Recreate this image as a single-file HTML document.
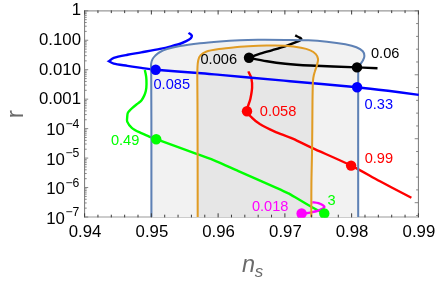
<!DOCTYPE html>
<html><head><meta charset="utf-8"><title>r vs ns</title>
<style>
html,body{margin:0;padding:0;background:#fff;}
body{width:436px;height:282px;overflow:hidden;font-family:"Liberation Sans",sans-serif;}
svg{display:block;will-change:transform;}
text{font-family:"Liberation Sans",sans-serif;}
</style></head><body>
<svg width="436" height="282" viewBox="0 0 436 282">
<rect width="436" height="282" fill="#fff"/>
<defs><clipPath id="clip"><rect x="84.1" y="10.3" width="334.8" height="207.4"/></clipPath></defs>
<path d="M84.6,10.8 V217.0 M418.4,10.8 V217.0" stroke="#777" stroke-width="1" fill="none"/>
<path d="M84.1,10.8 H418.9 M84.1,217.0 H418.9" stroke="#999" stroke-width="1.2" fill="none"/>
<g clip-path="url(#clip)">
<path d="M151.4,217.0 C151.4,204.2 151.4,164.2 151.4,140.0 C151.4,115.8 151.3,84.7 151.2,72.0 C151.2,69.1 150.9,66.1 151.1,64.0 C151.3,62.3 151.7,60.8 152.4,59.4 C153.1,58.0 154.1,56.8 155.3,55.6 C156.6,54.4 158.1,53.0 160.0,52.0 C161.9,50.9 164.4,49.8 167.0,49.0 C170.3,48.0 175.3,46.9 180.0,46.1 C185.5,45.1 193.3,44.1 200.0,43.3 C206.7,42.5 213.3,42.0 220.0,41.5 C226.7,41.0 233.7,40.6 240.0,40.3 C246.3,40.0 251.3,39.9 257.6,39.8 C265.2,39.7 276.8,39.8 285.3,39.9 C293.6,40.0 301.5,40.0 308.4,40.3 C315.1,40.6 320.8,41.1 326.9,41.8 C333.0,42.4 340.4,43.4 345.3,44.3 C349.4,45.1 353.5,46.1 356.4,47.3 C358.9,48.3 361.5,49.9 362.8,51.3 C364.0,52.6 364.4,54.3 364.4,55.9 C364.4,57.5 363.5,59.1 362.8,60.6 C362.1,62.1 360.7,63.4 360.0,65.0 C359.3,66.6 358.8,68.2 358.5,70.0 C358.2,71.8 358.2,73.8 358.2,76.0 C358.1,100.5 358.2,193.5 358.2,217.0 Z" fill="#f2f2f2" stroke="none"/>
<path d="M197.7,217.0 C197.7,199.2 197.6,132.8 197.5,110.0 C197.5,99.2 197.3,87.2 197.3,80.0 C197.3,75.3 197.3,70.2 197.5,67.0 C197.6,64.6 197.8,62.4 198.2,60.5 C198.6,58.6 198.9,57.0 200.2,55.6 C201.5,54.1 203.6,52.5 206.0,51.7 C209.1,50.6 214.3,49.8 219.0,49.1 C224.7,48.3 235.1,47.3 240.0,46.8 C243.0,46.5 245.4,46.3 248.4,46.2 C252.9,46.0 260.8,45.7 266.9,45.6 C273.0,45.5 279.6,45.4 285.3,45.8 C291.0,46.2 296.8,47.0 301.0,47.8 C304.4,48.4 307.8,49.3 310.3,50.4 C312.5,51.3 314.5,52.7 315.8,54.1 C317.0,55.4 317.7,57.3 318.0,58.7 C318.3,60.0 317.8,61.2 317.6,62.5 C317.4,63.8 317.0,65.1 316.6,66.5 C316.1,68.1 315.2,70.1 314.7,72.0 C314.1,73.9 313.6,76.0 313.3,78.0 C313.0,80.0 312.9,81.8 312.8,84.0 C312.7,87.7 312.6,94.2 312.5,100.0 C312.4,110.7 312.3,133.8 312.1,148.0 C311.9,161.3 311.5,173.5 311.4,185.0 C311.3,196.5 311.3,211.7 311.3,217.0 Z" fill="#e6e6e6" stroke="none"/>
<path d="M144.8,70.0 C145.0,70.8 146.0,75.3 146.2,76.8 C146.4,78.3 146.5,82.3 146.5,83.9 C146.5,85.5 146.1,89.7 145.8,91.0 C145.5,92.3 144.6,94.9 144.1,95.9 C143.6,96.9 142.3,99.4 141.6,100.3 C140.9,101.2 138.7,102.8 137.7,103.6 C136.7,104.4 133.8,106.6 132.7,107.6 C131.6,108.6 128.5,111.6 127.9,112.7 C127.3,113.8 127.3,116.2 127.2,117.2 C127.1,118.2 126.7,120.4 127.2,121.6 C127.7,122.8 130.4,126.6 131.8,127.8 C133.2,129.0 137.9,131.5 139.8,132.4 C141.7,133.3 146.9,135.5 148.7,136.3 C150.5,137.1 155.4,138.9 156.2,139.2 C160.8,140.9 191.1,151.9 197.9,154.4 C204.7,156.9 212.5,159.7 217.0,161.6 C221.5,163.5 231.9,168.3 238.4,171.2 C244.9,174.1 269.7,184.8 275.3,187.3 C280.1,189.4 287.1,192.7 288.6,193.4 C291.2,194.9 307.6,204.8 311.6,207.0 C315.6,209.2 322.9,212.9 324.3,213.6" fill="none" stroke="#00ff00" stroke-width="2.4" stroke-linejoin="miter" stroke-miterlimit="3"/>
<path d="M248.3,71.4 C248.8,72.6 250.8,75.7 251.4,78.4 C252.0,81.1 252.3,84.3 252.1,87.6 C251.9,91.0 251.2,94.8 250.4,98.7 C249.6,102.6 246.7,108.0 247.0,111.2 C247.3,114.2 250.0,115.7 252.1,117.8 C254.2,119.9 256.8,122.1 259.8,124.0 C263.5,126.2 268.9,128.9 274.2,131.3 C279.7,133.8 286.4,135.9 292.7,138.7 C299.0,141.5 305.0,144.7 312.0,147.9 C321.7,152.4 339.8,160.0 351.1,165.6 C361.7,170.8 369.9,175.9 380.0,181.3 C390.1,186.7 406.2,195.1 411.4,197.8" fill="none" stroke="#ff0000" stroke-width="2.4" stroke-linejoin="miter" stroke-miterlimit="3"/>
<path d="M188.5,32.9 C188.9,33.2 190.5,34.1 191.1,34.7 C191.6,35.2 192.1,35.9 191.8,36.6 C191.5,37.4 190.4,38.8 189.2,39.6 C187.6,40.7 184.8,42.0 182.1,43.0 C179.1,44.1 174.7,45.3 171.0,46.3 C167.3,47.3 164.0,48.1 160.0,48.9 C155.1,49.9 146.7,51.4 141.3,52.4 C136.3,53.3 132.1,53.9 127.5,54.8 C122.9,55.7 116.9,56.8 113.8,57.9 C111.8,58.6 109.8,60.7 109.0,61.2 C109.8,61.6 111.9,63.2 113.8,63.7 C116.9,64.5 122.9,65.2 127.5,65.9 C132.1,66.6 136.6,67.2 141.3,67.9 C146.0,68.6 150.5,69.3 155.7,69.8 C165.1,70.6 187.3,72.2 198.0,73.0 C205.9,73.6 212.1,74.2 220.0,74.9 C228.0,75.6 236.6,76.5 246.0,77.3 C257.7,78.3 274.2,79.8 290.0,81.2 C308.5,82.9 340.8,85.6 357.1,87.2 C368.2,88.3 377.7,89.5 388.0,90.8 C398.3,92.1 413.7,94.2 418.8,94.9" fill="none" stroke="#0000ff" stroke-width="2.4" stroke-linejoin="miter" stroke-miterlimit="3"/>
<path d="M249.0,57.8 C250.6,57.2 255.2,55.4 258.8,54.2 C262.7,52.9 267.9,51.5 272.5,50.1 C277.1,48.7 282.4,47.1 286.3,45.8 C289.8,44.6 293.6,43.1 295.9,42.2 C297.5,41.6 299.4,40.8 300.3,40.2 C300.8,39.9 301.4,39.3 301.3,38.9 C301.2,38.5 300.3,38.0 299.6,37.6 C298.6,37.0 295.9,35.8 295.2,35.4" fill="none" stroke="#000" stroke-width="2.4" stroke-linejoin="miter" stroke-miterlimit="3"/>
<path d="M249.0,57.8 C252.0,58.4 260.8,60.3 266.9,61.3 C272.9,62.3 278.7,63.1 285.3,63.7 C292.5,64.4 301.1,65.0 310.0,65.5 C321.9,66.1 345.8,66.9 357.0,67.4 C364.4,67.7 374.1,68.2 377.5,68.3" fill="none" stroke="#000" stroke-width="2.4" stroke-linejoin="miter" stroke-miterlimit="3"/>
<path d="M312.3,202.2 C313.3,202.4 316.6,202.6 318.4,203.2 C320.2,203.8 322.3,204.8 323.3,205.5 C323.9,205.9 324.6,206.5 324.4,207.1 C324.2,207.7 322.9,208.6 321.9,209.1 C320.7,209.8 318.8,210.4 317.0,211.0 C315.2,211.6 313.1,212.0 311.3,212.4 C309.5,212.8 307.9,213.1 306.3,213.3 C304.7,213.5 302.4,213.5 301.6,213.5" fill="none" stroke="#ff00ff" stroke-width="2.4" stroke-linejoin="miter" stroke-miterlimit="3"/>
<path d="M151.4,217.0 C151.4,204.2 151.4,164.2 151.4,140.0 C151.4,115.8 151.3,84.7 151.2,72.0 C151.2,69.1 150.9,66.1 151.1,64.0 C151.3,62.3 151.7,60.8 152.4,59.4 C153.1,58.0 154.1,56.8 155.3,55.6 C156.6,54.4 158.1,53.0 160.0,52.0 C161.9,50.9 164.4,49.8 167.0,49.0 C170.3,48.0 175.3,46.9 180.0,46.1 C185.5,45.1 193.3,44.1 200.0,43.3 C206.7,42.5 213.3,42.0 220.0,41.5 C226.7,41.0 233.7,40.6 240.0,40.3 C246.3,40.0 251.3,39.9 257.6,39.8 C265.2,39.7 276.8,39.8 285.3,39.9 C293.6,40.0 301.5,40.0 308.4,40.3 C315.1,40.6 320.8,41.1 326.9,41.8 C333.0,42.4 340.4,43.4 345.3,44.3 C349.4,45.1 353.5,46.1 356.4,47.3 C358.9,48.3 361.5,49.9 362.8,51.3 C364.0,52.6 364.4,54.3 364.4,55.9 C364.4,57.5 363.5,59.1 362.8,60.6 C362.1,62.1 360.7,63.4 360.0,65.0 C359.3,66.6 358.8,68.2 358.5,70.0 C358.2,71.8 358.2,73.8 358.2,76.0 C358.1,100.5 358.2,193.5 358.2,217.0" fill="none" stroke="#5e81b5" stroke-width="2.05"/>
<path d="M197.7,217.0 C197.7,199.2 197.6,132.8 197.5,110.0 C197.5,99.2 197.3,87.2 197.3,80.0 C197.3,75.3 197.3,70.2 197.5,67.0 C197.6,64.6 197.8,62.4 198.2,60.5 C198.6,58.6 198.9,57.0 200.2,55.6 C201.5,54.1 203.6,52.5 206.0,51.7 C209.1,50.6 214.3,49.8 219.0,49.1 C224.7,48.3 235.1,47.3 240.0,46.8 C243.0,46.5 245.4,46.3 248.4,46.2 C252.9,46.0 260.8,45.7 266.9,45.6 C273.0,45.5 279.6,45.4 285.3,45.8 C291.0,46.2 296.8,47.0 301.0,47.8 C304.4,48.4 307.8,49.3 310.3,50.4 C312.5,51.3 314.5,52.7 315.8,54.1 C317.0,55.4 317.7,57.3 318.0,58.7 C318.3,60.0 317.8,61.2 317.6,62.5 C317.4,63.8 317.0,65.1 316.6,66.5 C316.1,68.1 315.2,70.1 314.7,72.0 C314.1,73.9 313.6,76.0 313.3,78.0 C313.0,80.0 312.9,81.8 312.8,84.0 C312.7,87.7 312.6,94.2 312.5,100.0 C312.4,110.7 312.3,133.8 312.1,148.0 C311.9,161.3 311.5,173.5 311.4,185.0 C311.3,196.5 311.3,211.7 311.3,217.0" fill="none" stroke="#e19c24" stroke-width="2.05"/>
</g>
<path d="M84.60,217.4 v-4.1000000000000005 M84.60,10.4 v4.1000000000000005 M97.95,217.4 v-2.6999999999999997 M97.95,10.4 v2.6999999999999997 M111.30,217.4 v-2.6999999999999997 M111.30,10.4 v2.6999999999999997 M124.66,217.4 v-2.6999999999999997 M124.66,10.4 v2.6999999999999997 M138.01,217.4 v-2.6999999999999997 M138.01,10.4 v2.6999999999999997 M151.36,217.4 v-4.1000000000000005 M151.36,10.4 v4.1000000000000005 M164.71,217.4 v-2.6999999999999997 M164.71,10.4 v2.6999999999999997 M178.06,217.4 v-2.6999999999999997 M178.06,10.4 v2.6999999999999997 M191.42,217.4 v-2.6999999999999997 M191.42,10.4 v2.6999999999999997 M204.77,217.4 v-2.6999999999999997 M204.77,10.4 v2.6999999999999997 M218.12,217.4 v-4.1000000000000005 M218.12,10.4 v4.1000000000000005 M231.47,217.4 v-2.6999999999999997 M231.47,10.4 v2.6999999999999997 M244.82,217.4 v-2.6999999999999997 M244.82,10.4 v2.6999999999999997 M258.18,217.4 v-2.6999999999999997 M258.18,10.4 v2.6999999999999997 M271.53,217.4 v-2.6999999999999997 M271.53,10.4 v2.6999999999999997 M284.88,217.4 v-4.1000000000000005 M284.88,10.4 v4.1000000000000005 M298.23,217.4 v-2.6999999999999997 M298.23,10.4 v2.6999999999999997 M311.58,217.4 v-2.6999999999999997 M311.58,10.4 v2.6999999999999997 M324.94,217.4 v-2.6999999999999997 M324.94,10.4 v2.6999999999999997 M338.29,217.4 v-2.6999999999999997 M338.29,10.4 v2.6999999999999997 M351.64,217.4 v-4.1000000000000005 M351.64,10.4 v4.1000000000000005 M364.99,217.4 v-2.6999999999999997 M364.99,10.4 v2.6999999999999997 M378.34,217.4 v-2.6999999999999997 M378.34,10.4 v2.6999999999999997 M391.70,217.4 v-2.6999999999999997 M391.70,10.4 v2.6999999999999997 M405.05,217.4 v-2.6999999999999997 M405.05,10.4 v2.6999999999999997 M418.40,217.4 v-4.1000000000000005 M418.40,10.4 v4.1000000000000005" stroke="#3a3a3a" stroke-width="1" fill="none"/>
<path d="M84.6,10.80 h3.6 M84.6,31.39 h2.1 M84.6,26.20 h2.1 M84.6,22.52 h2.1 M84.6,19.67 h2.1 M84.6,17.34 h2.1 M84.6,15.36 h2.1 M84.6,13.65 h2.1 M84.6,12.15 h2.1 M84.6,40.26 h3.6 M84.6,60.85 h2.1 M84.6,55.66 h2.1 M84.6,51.98 h2.1 M84.6,49.12 h2.1 M84.6,46.79 h2.1 M84.6,44.82 h2.1 M84.6,43.11 h2.1 M84.6,41.61 h2.1 M84.6,69.71 h3.6 M84.6,90.30 h2.1 M84.6,85.12 h2.1 M84.6,81.44 h2.1 M84.6,78.58 h2.1 M84.6,76.25 h2.1 M84.6,74.28 h2.1 M84.6,72.57 h2.1 M84.6,71.06 h2.1 M84.6,99.17 h3.6 M84.6,119.76 h2.1 M84.6,114.57 h2.1 M84.6,110.89 h2.1 M84.6,108.04 h2.1 M84.6,105.71 h2.1 M84.6,103.73 h2.1 M84.6,102.03 h2.1 M84.6,100.52 h2.1 M84.6,128.63 h3.6 M84.6,149.22 h2.1 M84.6,144.03 h2.1 M84.6,140.35 h2.1 M84.6,137.50 h2.1 M84.6,135.16 h2.1 M84.6,133.19 h2.1 M84.6,131.48 h2.1 M84.6,129.98 h2.1 M84.6,158.09 h3.6 M84.6,178.68 h2.1 M84.6,173.49 h2.1 M84.6,169.81 h2.1 M84.6,166.95 h2.1 M84.6,164.62 h2.1 M84.6,162.65 h2.1 M84.6,160.94 h2.1 M84.6,159.43 h2.1 M84.6,187.54 h3.6 M84.6,208.13 h2.1 M84.6,202.95 h2.1 M84.6,199.27 h2.1 M84.6,196.41 h2.1 M84.6,194.08 h2.1 M84.6,192.11 h2.1 M84.6,190.40 h2.1 M84.6,188.89 h2.1 M84.6,217.00 h3.6 M418.4,10.80 h-3.7 M418.4,23.59 h-2.3 M418.4,36.39 h-2.3 M418.4,49.18 h-2.3 M418.4,61.97 h-2.3 M418.4,74.77 h-3.7 M418.4,87.56 h-2.3 M418.4,100.35 h-2.3 M418.4,113.14 h-2.3 M418.4,125.94 h-2.3 M418.4,138.73 h-3.7 M418.4,151.52 h-2.3 M418.4,164.32 h-2.3 M418.4,177.11 h-2.3 M418.4,189.90 h-2.3 M418.4,202.70 h-3.7 M418.4,215.49 h-2.3" stroke="#777" stroke-width="0.9" fill="none"/>
<g clip-path="url(#clip)">
<circle cx="155.7" cy="69.8" r="5.2" fill="#0000ff"/>
<circle cx="357.1" cy="87.2" r="5.2" fill="#0000ff"/>
<circle cx="249" cy="57.8" r="5.2" fill="#000"/>
<circle cx="357" cy="67.4" r="5.2" fill="#000"/>
<circle cx="156.2" cy="139.2" r="5.2" fill="#00ff00"/>
<circle cx="324.3" cy="213.5" r="5.2" fill="#00ff00"/>
<circle cx="247" cy="111.2" r="5.2" fill="#ff0000"/>
<circle cx="351.1" cy="165.6" r="5.2" fill="#ff0000"/>
<circle cx="301.6" cy="213.5" r="5.2" fill="#ff00ff"/>
</g>
<text x="85.1" y="236.8" font-size="16.8" text-anchor="middle" fill="#000">0.94</text>
<text x="151.9" y="236.8" font-size="16.8" text-anchor="middle" fill="#000">0.95</text>
<text x="218.6" y="236.8" font-size="16.8" text-anchor="middle" fill="#000">0.96</text>
<text x="285.4" y="236.8" font-size="16.8" text-anchor="middle" fill="#000">0.97</text>
<text x="352.1" y="236.8" font-size="16.8" text-anchor="middle" fill="#000">0.98</text>
<text x="418.9" y="236.8" font-size="16.8" text-anchor="middle" fill="#000">0.99</text>
<text x="81" y="15.2" font-size="16.8" text-anchor="end" fill="#000">1</text>
<text x="81" y="45.3" font-size="16.8" text-anchor="end" fill="#000">0.100</text>
<text x="81" y="74.7" font-size="16.8" text-anchor="end" fill="#000">0.010</text>
<text x="81" y="104.2" font-size="16.8" text-anchor="end" fill="#000">0.001</text>
<text x="79.4" y="135.2" font-size="16.8" text-anchor="end" fill="#000">10<tspan font-size="12.2" dy="-7.3" dx="0.6">−4</tspan></text>
<text x="79.4" y="164.7" font-size="16.8" text-anchor="end" fill="#000">10<tspan font-size="12.2" dy="-7.3" dx="0.6">−5</tspan></text>
<text x="79.4" y="194.1" font-size="16.8" text-anchor="end" fill="#000">10<tspan font-size="12.2" dy="-7.3" dx="0.6">−6</tspan></text>
<text x="79.4" y="223.6" font-size="16.8" text-anchor="end" fill="#000">10<tspan font-size="12.2" dy="-7.3" dx="0.6">−7</tspan></text>
<text x="200.5" y="63.6" font-size="14.6" fill="#000" text-anchor="start">0.006</text>
<text x="371.0" y="57.8" font-size="14.6" fill="#000" text-anchor="start">0.06</text>
<text x="153.5" y="88.9" font-size="14.6" fill="#0000ff" text-anchor="start">0.085</text>
<text x="364.6" y="109.2" font-size="14.6" fill="#0000ff" text-anchor="start">0.33</text>
<text x="259.8" y="116.3" font-size="14.6" fill="#ff0000" text-anchor="start">0.058</text>
<text x="364.7" y="163.3" font-size="14.6" fill="#ff0000" text-anchor="start">0.99</text>
<text x="110.9" y="145.2" font-size="14.6" fill="#00ff00" text-anchor="start">0.49</text>
<text x="327.6" y="205.0" font-size="14.6" fill="#00ff00" text-anchor="start">3</text>
<text x="251.9" y="210.8" font-size="14.6" fill="#ff00ff" text-anchor="start">0.018</text>
<text transform="translate(23,118.2) rotate(-90)" font-size="24.5" fill="#6a6a6a" text-anchor="start">r</text>
<text x="241.9" y="272.4" font-size="23.5" fill="#6a6a6a" font-style="italic">n<tspan font-size="17" dy="4.9" dx="-0.2">s</tspan></text>
</svg></body></html>
